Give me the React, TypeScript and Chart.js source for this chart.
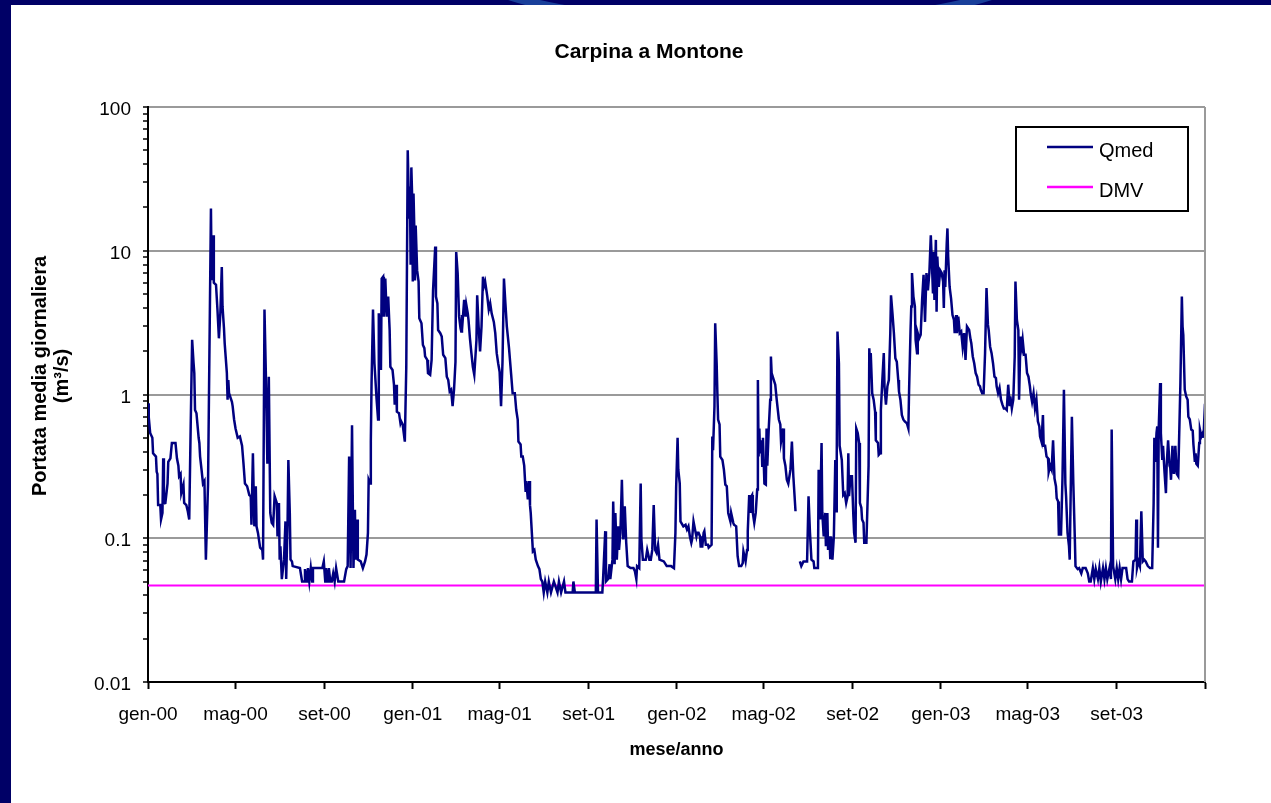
import { useEffect, useRef } from 'react';
import { Chart, registerables } from 'chart.js';

Chart.register(...registerables);

const FONT = "'Liberation Sans', Arial, Helvetica, sans-serif";

// Chart texts
const chartTitle = 'Carpina a Montone';
const xAxisTitle = 'mese/anno';
const yAxisTitleLines = ['Portata media giornaliera', '(m³/s)'];
const seriesNames = ['Qmed', 'DMV'];

// X axis: day index since 1 Jan 2000, ticks every 4 months
const xTickDays = [0, 121, 244, 366, 486, 609, 731, 851, 974, 1096, 1216, 1339, 1461];
const xTickLabels = ['gen-00', 'mag-00', 'set-00', 'gen-01', 'mag-01', 'set-01', 'gen-02', 'mag-02', 'set-02', 'gen-03', 'mag-03', 'set-03', ''];

// Y axis (log) decades and minor steps
const yDecades = [0.01, 0.1, 1, 10, 100];
const yDecadeLabels = ['0.01', '0.1', '1', '10', '100'];
const yMinorSteps = [1, 2, 3, 4, 5, 6, 7, 8, 9];

// Qmed daily flow (m3/s): [day since 1 Jan 2000, value]
const qmed2000: [number, number | null][] = [
  [0, 0.87], [1, 0.7], [3, 0.54], [6, 0.5], [7, 0.39], [11, 0.37], [12, 0.29], [13, 0.28], [14, 0.17], [17, 0.17],
  [18, 0.135], [20, 0.15], [21, 0.36], [22, 0.175], [24, 0.176], [27, 0.24], [28, 0.34], [31, 0.36], [33, 0.46], [38, 0.46],
  [40, 0.36], [42, 0.32], [43, 0.27], [45, 0.28], [46, 0.206], [49, 0.236], [50, 0.176], [53, 0.17], [55, 0.154], [57, 0.135],
  [59, 0.6], [61, 2.4], [63, 1.65], [64, 1.41], [65, 0.78], [67, 0.74], [70, 0.5], [71, 0.46], [72, 0.37], [74, 0.3],
  [76, 0.24], [78, 0.25], [80, 0.071], [83, 0.24], [87, 19.7], [88, 6.25], [90, 12.8], [91, 6.0], [94, 5.8], [96, 3.9],
  [98, 2.46], [100, 3.67], [102, 7.7], [103, 4.1], [105, 2.9], [106, 2.27], [109, 1.41], [110, 0.92], [111, 1.26], [112, 1.02],
  [116, 0.89], [117, 0.83], [119, 0.67], [121, 0.58], [124, 0.5], [127, 0.51], [130, 0.44], [132, 0.33], [134, 0.24], [137, 0.23],
  [140, 0.2], [142, 0.196], [143, 0.124], [145, 0.39], [147, 0.121], [149, 0.23], [150, 0.121], [152, 0.109], [155, 0.086], [158, 0.083],
  [159, 0.071], [161, 3.9], [163, 1.33], [165, 0.33], [167, 1.33], [169, 0.15], [171, 0.128], [173, 0.124], [175, 0.196], [178, 0.176],
  [179, 0.103], [181, 0.176], [182, 0.071], [183, 0.088], [185, 0.052], [188, 0.071], [190, 0.131], [191, 0.052], [193, 0.135], [194, 0.35],
  [196, 0.15], [197, 0.071], [199, 0.069], [200, 0.064], [210, 0.062], [213, 0.05], [216, 0.05], [217, 0.061], [220, 0.05], [221, 0.062],
  [223, 0.05], [225, 0.062], [227, 0.05], [228, 0.062], [241, 0.062], [243, 0.069], [245, 0.05], [246, 0.062], [249, 0.05], [250, 0.062],
  [252, 0.05], [254, 0.05], [256, 0.057], [258, 0.05], [260, 0.062], [263, 0.05], [271, 0.05], [274, 0.061], [276, 0.064], [278, 0.37],
  [280, 0.062], [282, 0.61], [284, 0.062], [286, 0.158], [287, 0.071], [289, 0.135], [290, 0.071], [294, 0.069], [297, 0.062], [300, 0.069],
  [302, 0.077], [304, 0.109], [305, 0.255], [307, 0.24], [308, 0.47], [309, 1.2], [311, 3.9], [313, 1.65], [316, 0.92], [318, 0.67],
  [319, 3.67], [322, 1.48], [323, 6.4], [325, 6.6], [326, 3.48], [328, 6.4], [330, 3.48], [332, 4.8], [334, 2.81], [335, 1.56],
  [338, 1.48], [340, 1.17], [341, 0.85], [343, 1.17], [344, 0.76], [347, 0.74], [349, 0.63], [350, 0.65], [352, 0.62], [355, 0.47],
  [357, 1.56], [359, 50], [361, 17], [362, 28], [363, 8], [364, 38], [365, 25],
];

const qmed2001: [number, number | null][] = [
  [366, 6.1], [367, 25], [368, 15], [369, 6.2], [370, 15], [372, 7.3], [374, 6.1], [375, 3.39], [378, 3.13], [380, 2.21],
  [382, 2.1], [383, 1.84], [386, 1.74], [387, 1.41], [390, 1.37], [392, 1.74], [394, 5.3], [397, 10.7], [398, 4.8], [400, 4.3],
  [401, 2.81], [404, 2.67], [406, 2.53], [408, 1.89], [411, 1.79], [413, 1.33], [415, 1.26], [417, 1.05], [419, 1.08], [421, 0.83],
  [423, 1.08], [425, 1.69], [426, 9.8], [428, 7.0], [430, 3.48], [432, 2.89], [433, 2.74], [434, 3.57], [435, 3.3], [437, 4.55],
  [439, 3.48], [440, 4.2], [442, 3.67], [443, 3.3], [445, 2.46], [447, 1.94], [449, 1.56], [451, 1.37], [454, 2.4], [455, 4.9],
  [457, 2.97], [459, 1.99], [461, 2.97], [463, 6.6], [464, 5.6], [466, 6.1], [468, 5.2], [469, 4.8], [471, 3.9], [473, 4.3],
  [475, 3.67], [478, 3.2], [480, 2.67], [482, 1.94], [484, 1.65], [486, 1.44], [488, 0.83], [490, 1.69], [492, 6.4], [494, 4.3],
  [496, 2.97], [499, 2.1], [502, 1.37], [504, 1.02], [507, 1.02], [509, 0.78], [511, 0.67], [512, 0.47], [515, 0.45], [516, 0.37],
  [518, 0.37], [520, 0.32], [522, 0.21], [523, 0.25], [525, 0.186], [527, 0.25], [528, 0.17], [529, 0.15], [532, 0.081], [534, 0.083],
  [536, 0.071], [539, 0.064], [541, 0.061], [543, 0.052], [545, 0.05], [547, 0.042], [549, 0.05], [552, 0.042], [554, 0.05], [557, 0.042],
  [561, 0.05], [566, 0.042], [568, 0.05], [571, 0.042], [575, 0.05], [577, 0.042], [587, 0.042], [588, 0.05], [590, 0.042], [619, 0.042],
  [620, 0.135], [622, 0.042], [628, 0.042], [629, 0.052], [632, 0.112], [633, 0.05], [636, 0.052], [638, 0.066], [639, 0.052], [642, 0.071],
  [643, 0.18], [645, 0.066], [646, 0.15], [648, 0.071], [650, 0.121], [651, 0.083], [653, 0.109], [655, 0.255], [657, 0.098], [659, 0.167],
  [661, 0.093], [663, 0.064], [667, 0.062], [671, 0.062], [673, 0.059], [675, 0.052], [676, 0.064], [679, 0.062], [681, 0.24], [682, 0.098],
  [684, 0.071], [688, 0.071], [690, 0.083], [693, 0.071], [695, 0.071], [697, 0.083], [699, 0.17], [701, 0.083], [703, 0.079], [705, 0.09],
  [707, 0.071], [713, 0.069], [717, 0.064], [723, 0.064], [727, 0.062], [729, 0.109], [730, 0.224],
];

const qmed2002: [number, number | null][] = [
  [732, 0.5], [733, 0.3], [735, 0.24], [736, 0.131], [740, 0.121], [743, 0.124], [745, 0.115], [747, 0.121], [749, 0.103], [751, 0.093],
  [752, 0.098], [754, 0.131], [757, 0.109], [758, 0.103], [759, 0.109], [761, 0.109], [763, 0.103], [764, 0.086], [765, 0.103], [766, 0.086],
  [768, 0.109], [769, 0.112], [771, 0.09], [774, 0.09], [775, 0.086], [777, 0.088], [779, 0.09], [780, 0.51], [781, 0.41], [783, 0.83],
  [784, 3.13], [786, 1.65], [787, 1.02], [788, 0.67], [790, 0.62], [791, 0.37], [794, 0.35], [796, 0.3], [798, 0.236], [800, 0.23],
  [802, 0.15], [803, 0.15], [805, 0.131], [806, 0.15], [809, 0.128], [810, 0.124], [813, 0.121], [815, 0.075], [817, 0.064], [820, 0.064],
  [822, 0.067], [823, 0.081], [826, 0.069], [828, 0.083], [829, 0.112], [831, 0.2], [833, 0.15], [834, 0.196], [835, 0.2], [836, 0.15],
  [838, 0.128], [840, 0.15], [842, 0.218], [843, 1.26], [844, 0.37], [845, 0.58], [846, 0.39], [848, 0.48], [849, 0.32], [850, 0.5],
  [852, 0.24], [854, 0.236], [855, 0.58], [856, 0.32], [858, 0.58], [860, 0.92], [861, 1.84], [862, 1.41], [865, 1.26], [867, 1.17],
  [869, 0.92], [872, 0.67], [874, 0.62], [875, 0.47], [878, 0.58], [879, 0.36], [881, 0.32], [883, 0.255], [885, 0.24], [888, 0.3],
  [890, 0.47], [892, 0.27], [895, 0.154], [898, null], [901, 0.069], [903, 0.064], [906, 0.069], [911, 0.069], [913, 0.196], [915, 0.109],
  [917, 0.071], [920, 0.069], [921, 0.062], [926, 0.062], [927, 0.3], [929, 0.135], [930, 0.135], [931, 0.46], [932, 0.15], [934, 0.103],
  [936, 0.15], [937, 0.088], [939, 0.15], [940, 0.083], [942, 0.103], [943, 0.073], [944, 0.103], [946, 0.071], [948, 0.103], [950, 0.35],
  [951, 0.154], [952, 0.36], [953, 2.74], [955, 1.65], [956, 0.44], [959, 0.35], [961, 0.2], [963, 0.206], [965, 0.176], [967, 0.196],
  [968, 0.39], [969, 0.196], [971, 0.27], [973, 0.27], [975, 0.142], [976, 0.109], [978, 0.093], [979, 0.58], [981, 0.54], [983, 0.46],
  [984, 0.176], [986, 0.163], [987, 0.135], [989, 0.128], [990, 0.093], [993, 0.093], [996, 0.32], [997, 2.1], [998, 1.48], [999, 1.94],
  [1001, 1.02], [1003, 0.92], [1005, 0.76], [1006, 0.48], [1009, 0.46], [1010, 0.38], [1012, 0.39], [1013, 0.78], [1015, 1.26], [1017, 1.94],
  [1018, 1.14], [1020, 0.85], [1022, 1.14], [1024, 1.26], [1026, 2.67], [1027, 4.9], [1029, 3.67], [1031, 2.67], [1033, 1.79], [1035, 1.69],
  [1037, 1.26], [1038, 1.05], [1040, 0.92], [1042, 0.72], [1044, 0.67], [1046, 0.65], [1049, 0.63], [1051, 0.58], [1052, 1.08], [1054, 2.81],
  [1055, 4.1], [1056, 7.0], [1058, 4.8], [1060, 4.1], [1061, 2.4], [1063, 1.94], [1064, 2.67], [1066, 2.46], [1068, 2.6], [1070, 4.55],
  [1072, 6.8], [1074, 3.2], [1076, 7.0], [1078, 5.3], [1080, 7.0], [1082, 12.8], [1084, 7.0], [1085, 5.05], [1086, 9.8], [1087, 4.55],
  [1089, 11.9], [1090, 3.77], [1091, 9.1], [1093, 5.6], [1095, 7.3],
];

const qmed2003: [number, number | null][] = [
  [1097, 7.0], [1099, 6.1], [1100, 4.0], [1101, 7.3], [1102, 5.6], [1104, 11.2], [1105, 14.3], [1106, 9.1], [1108, 5.6], [1110, 4.67],
  [1112, 3.57], [1114, 3.3], [1115, 2.67], [1117, 3.57], [1118, 2.67], [1120, 3.48], [1122, 2.67], [1124, 2.74], [1126, 2.15], [1128, 2.67],
  [1130, 1.74], [1132, 2.97], [1135, 2.81], [1137, 2.4], [1138, 2.27], [1140, 1.84], [1142, 1.65], [1144, 1.41], [1146, 1.33], [1148, 1.17],
  [1150, 1.14], [1151, 1.08], [1153, 1.02], [1155, 1.02], [1157, 1.94], [1159, 5.5], [1161, 3.05], [1162, 2.81], [1164, 2.15], [1166, 1.94],
  [1168, 1.65], [1170, 1.33], [1172, 1.3], [1173, 1.14], [1175, 1.02], [1177, 1.11], [1179, 0.92], [1181, 0.85], [1183, 0.8], [1185, 0.8],
  [1187, 0.78], [1189, 1.17], [1191, 0.83], [1192, 0.97], [1194, 0.8], [1196, 0.92], [1198, 1.84], [1199, 6.1], [1201, 3.3], [1203, 2.81],
  [1204, 0.92], [1206, 2.53], [1208, 2.15], [1209, 2.4], [1211, 1.89], [1213, 1.89], [1215, 1.41], [1217, 1.33], [1219, 1.14], [1220, 1.02],
  [1222, 0.89], [1224, 1.02], [1226, 0.8], [1228, 0.92], [1230, 0.65], [1232, 0.6], [1233, 0.51], [1235, 0.47], [1237, 0.72], [1238, 0.44],
  [1240, 0.44], [1242, 0.37], [1244, 0.36], [1245, 0.29], [1247, 0.32], [1249, 0.3], [1251, 0.48], [1253, 0.26], [1255, 0.23], [1256, 0.19],
  [1258, 0.18], [1259, 0.106], [1262, 0.106], [1264, 0.26], [1266, 1.08], [1268, 0.24], [1269, 0.196], [1271, 0.109], [1273, 0.088], [1274, 0.071],
  [1275, 0.158], [1277, 0.7], [1279, 0.24], [1281, 0.103], [1282, 0.064], [1285, 0.061], [1287, 0.062], [1290, 0.057], [1292, 0.062], [1296, 0.062],
  [1299, 0.057], [1301, 0.05], [1303, 0.05], [1306, 0.062], [1308, 0.052], [1310, 0.061], [1313, 0.052], [1315, 0.062], [1317, 0.05], [1320, 0.062],
  [1322, 0.052], [1324, 0.062], [1326, 0.052], [1329, 0.062], [1331, 0.052], [1332, 0.57], [1334, 0.064], [1337, 0.052], [1339, 0.062], [1341, 0.052],
  [1343, 0.062], [1345, 0.052], [1347, 0.062], [1352, 0.062], [1354, 0.052], [1356, 0.05], [1360, 0.05], [1362, 0.069], [1365, 0.071], [1366, 0.135],
  [1367, 0.062], [1369, 0.069], [1371, 0.064], [1373, 0.154], [1375, 0.069], [1377, 0.071], [1379, 0.069], [1382, 0.064], [1385, 0.062], [1388, 0.062],
  [1390, 0.176], [1391, 0.5], [1392, 0.34], [1394, 0.54], [1395, 0.6], [1396, 0.086], [1397, 0.58], [1399, 1.2], [1400, 0.54], [1402, 0.35],
  [1403, 0.44], [1405, 0.29], [1407, 0.206], [1408, 0.32], [1410, 0.48], [1412, 0.32], [1413, 0.31], [1414, 0.255], [1416, 0.44], [1418, 0.28],
  [1419, 0.31], [1420, 0.44], [1422, 0.28], [1424, 0.27], [1425, 0.27], [1427, 1.2], [1429, 4.8], [1430, 2.97], [1431, 2.6], [1433, 1.08],
  [1435, 0.97], [1437, 0.92], [1438, 0.7], [1440, 0.67], [1442, 0.57], [1444, 0.56], [1445, 0.45], [1447, 0.34], [1448, 0.39], [1449, 0.33],
  [1451, 0.32], [1453, 0.46], [1454, 0.57], [1456, 0.51], [1458, 0.54], [1459, 0.5], [1460, 0.67], [1461, 0.86],
];

// DMV (minimum vital flow), constant
const dmvDays = [0, 1461];
const dmvValues = [0.047, 0.047];

const QMED_COLOR = '#000080';
const DMV_COLOR = '#ff00ff';

const yTickValues = [
  ...yDecades.slice(0, -1).flatMap((d) => yMinorSteps.map((s) => +(d * s).toPrecision(6))),
  yDecades[yDecades.length - 1],
];

function decadeIndex(v: number): number {
  return yDecades.findIndex((d) => Math.abs(v / d - 1) < 1e-6);
}

const decorPlugin = {
  id: 'decor',
  afterDraw(chart: any) {
    const { ctx, chartArea: a } = chart;
    ctx.save();
    // right border of plot area
    ctx.strokeStyle = '#9a9a9a';
    ctx.lineWidth = 2;
    ctx.beginPath();
    ctx.moveTo(a.right, a.top);
    ctx.lineTo(a.right, a.bottom);
    ctx.stroke();

    // chart title
    ctx.fillStyle = '#000';
    ctx.font = `bold 21px ${FONT}`;
    ctx.textAlign = 'center';
    ctx.textBaseline = 'middle';
    ctx.fillText(chartTitle, 638, 47);

    // y axis title (two lines, rotated)
    ctx.font = `bold 20px ${FONT}`;
    yAxisTitleLines.forEach((t, i) => {
      ctx.save();
      ctx.translate(29 + i * 22, 371);
      ctx.rotate(-Math.PI / 2);
      ctx.fillText(t, 0, 0);
      ctx.restore();
    });

    // legend box inside the plot area
    const lx = a.right - 189;
    const ly = a.top + 20;
    ctx.fillStyle = '#fff';
    ctx.fillRect(lx, ly, 172, 84);
    ctx.strokeStyle = '#000';
    ctx.lineWidth = 2;
    ctx.strokeRect(lx, ly, 172, 84);
    chart.data.datasets.forEach((ds: any, i: number) => {
      const y = ly + 20 + i * 40;
      ctx.strokeStyle = ds.borderColor;
      ctx.lineWidth = 2.5;
      ctx.beginPath();
      ctx.moveTo(lx + 31, y);
      ctx.lineTo(lx + 77, y);
      ctx.stroke();
      ctx.fillStyle = '#000';
      ctx.font = `20px ${FONT}`;
      ctx.textAlign = 'left';
      ctx.textBaseline = 'middle';
      ctx.fillText(ds.label, lx + 83, y + 4);
    });
    ctx.restore();
  },
};

export default function App() {
  const ref = useRef<HTMLCanvasElement>(null);

  useEffect(() => {
    const canvas = ref.current;
    if (!canvas) return;
    const qmedPoints = [...qmed2000, ...qmed2001, ...qmed2002, ...qmed2003].map(([x, y]) => ({ x, y }));
    const dmvPoints = dmvDays.map((x, i) => ({ x, y: dmvValues[i] }));

    const chart = new Chart(canvas, {
      type: 'line',
      data: {
        datasets: [
          {
            label: seriesNames[0],
            data: qmedPoints as any,
            borderColor: QMED_COLOR,
            backgroundColor: QMED_COLOR,
            borderWidth: 2.5,
            pointRadius: 0,
            tension: 0,
            spanGaps: false,
          },
          {
            label: seriesNames[1],
            data: dmvPoints as any,
            borderColor: DMV_COLOR,
            backgroundColor: DMV_COLOR,
            borderWidth: 2,
            pointRadius: 0,
            tension: 0,
          },
        ],
      },
      options: {
        responsive: false,
        animation: false,
        events: [],
        layout: { padding: { left: 0, right: 66, top: 102, bottom: 0 } },
        plugins: {
          legend: { display: false },
          tooltip: { enabled: false },
          title: { display: false },
        },
        scales: {
          x: {
            type: 'linear',
            min: 0,
            max: 1461,
            afterFit: (s: any) => {
              s.height = 121;
            },
            afterBuildTicks: (s: any) => {
              s.ticks = xTickDays.map((v) => ({ value: v }));
            },
            ticks: {
              autoSkip: false,
              maxRotation: 0,
              minRotation: 0,
              color: '#000',
              padding: 14,
              font: { family: FONT, size: 19, lineHeight: 1.2 },
              callback: (_v: any, i: number) => xTickLabels[i],
            },
            grid: {
              display: true,
              drawOnChartArea: false,
              drawTicks: true,
              tickLength: 7,
              tickColor: '#000',
              tickWidth: 2,
            },
            border: { display: true, color: '#000', width: 2 },
            title: {
              display: true,
              text: xAxisTitle,
              color: '#000',
              font: { family: FONT, size: 18, weight: 'bold', lineHeight: 1.2 },
              padding: { top: 0, bottom: 42 },
            },
          },
          y: {
            type: 'logarithmic',
            min: 0.01,
            max: 100,
            afterFit: (s: any) => {
              s.width = 137;
            },
            afterBuildTicks: (s: any) => {
              s.ticks = yTickValues.map((v) => ({ value: v }));
            },
            ticks: {
              autoSkip: false,
              color: '#000',
              padding: 12,
              labelOffset: 3,
              font: { family: FONT, size: 19 },
              callback: (v: any) => {
                const i = decadeIndex(Number(v));
                return i >= 0 ? yDecadeLabels[i] : '';
              },
            },
            grid: {
              display: true,
              drawOnChartArea: true,
              drawTicks: true,
              tickLength: 5,
              tickColor: '#000',
              tickWidth: 1.5,
              lineWidth: 2,
              color: (c: any) => {
                const v = c.tick ? c.tick.value : 0;
                const i = decadeIndex(v);
                return i > 0 ? '#9a9a9a' : 'rgba(0,0,0,0)';
              },
            },
            border: { display: true, color: '#000', width: 2 },
          },
        },
      },
      plugins: [decorPlugin],
    });
    return () => chart.destroy();
  }, []);

  return (
    <div style={{ position: 'fixed', left: 0, top: 0, width: 1271, height: 803, background: '#000066', overflow: 'hidden' }}>
      <div
        style={{
          position: 'absolute',
          left: 440,
          top: -130,
          width: 600,
          height: 140,
          borderRadius: '50%',
          border: '10px solid #1f4fa8',
          opacity: 0.8,
        }}
      />
      <div style={{ position: 'absolute', left: 11, top: 5, width: 1260, height: 798, background: '#ffffff' }}>
        <canvas ref={ref} width={1260} height={798} style={{ display: 'block' }} />
      </div>
    </div>
  );
}
